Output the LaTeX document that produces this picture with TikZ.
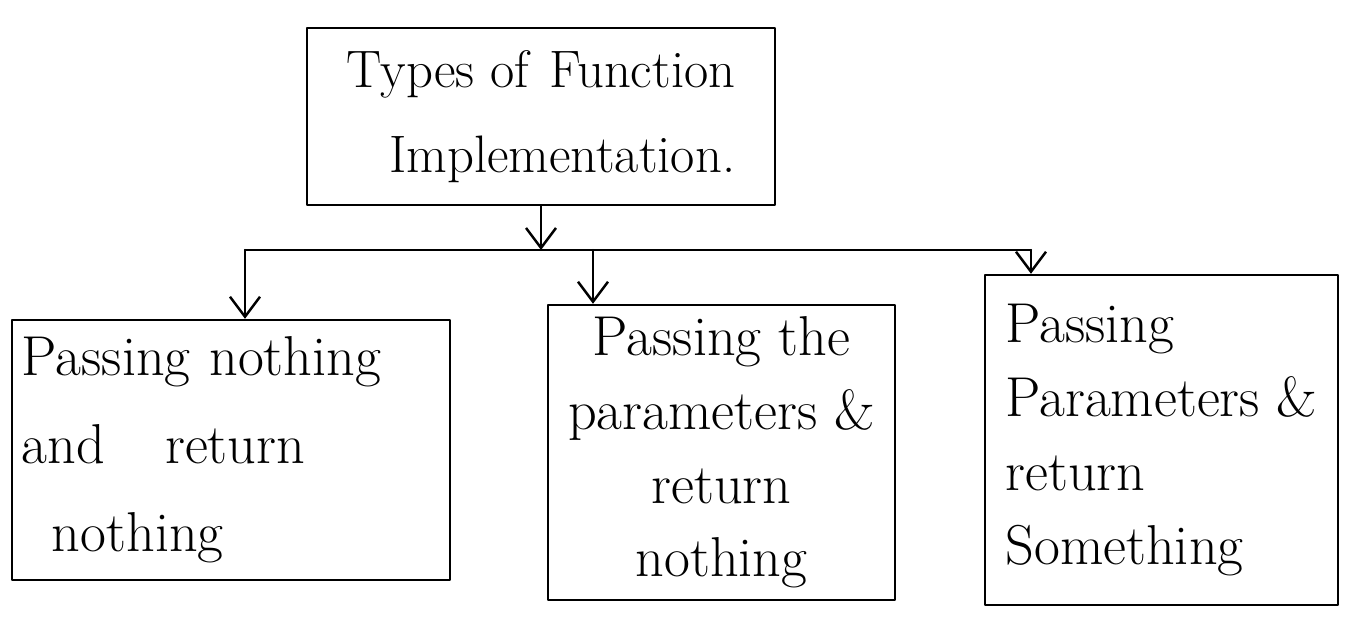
\documentclass[tikz,border=0pt]{standalone}
\usetikzlibrary{arrows.meta}
\begin{document}
\begin{tikzpicture}[
  ink/.style={line width=1.4pt, line cap=round, line join=round},
  box/.style={ink, draw, rectangle, inner ysep=0pt},
  big/.style={font=\fontsize{32}{50}\selectfont},
  tight/.style={font=\fontsize{32}{42}\selectfont},
  arr/.style={ink, -{Straight Barb[length=4mm,width=6mm,line width=1.4pt]}}
]
\useasboundingbox (0,0) rectangle (26.98,-12.5);

% root box
\node[box, font=\fontsize{30}{48}\selectfont, minimum width=9.36cm,
      minimum height=3.54cm, align=right]
  (top) at (10.82,-2.33) {Types of\hspace{0.4cm}Function\\ Implementation.};

% three kinds of function
\node[box, big, inner xsep=0.2cm, text width=8.36cm, minimum height=5.2cm, align=left]
  (b1) at (4.62,-9.0) {Passing nothing\\ and\hspace{1.2cm}return\\ \hspace*{0.6cm}nothing};
\node[box, tight, minimum width=6.94cm, minimum height=5.9cm, align=center]
  (b2) at (14.43,-9.05) {Passing the\\ parameters \&\\ return\\ nothing};
\node[box, tight, minimum width=7.06cm, minimum height=6.6cm, align=left]
  (b3) at (23.23,-8.8) {Passing\\ Parameters \&\\ return\\ Something};

% distribution bus
\coordinate (busL) at (4.9,-5.0);
\coordinate (busM) at (11.86,-5.0);
\coordinate (busR) at (20.62,-5.0);
\draw[ink] (busL) -- (busR);

\draw[arr] (top.south) -- (top.south |- busL);
\draw[arr] (busL) -- (busL |- b1.north);
\draw[arr] (busM) -- (busM |- b2.north);
\draw[arr] (busR) -- (busR |- b3.north);
\end{tikzpicture}
\end{document}
